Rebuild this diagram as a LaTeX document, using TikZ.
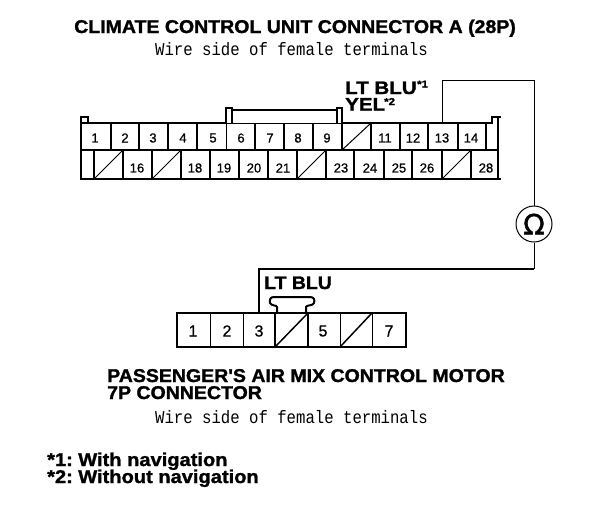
\documentclass[tikz,border=0pt]{standalone}
\usepackage{fontspec}
\setmainfont{Liberation Sans}
\newfontfamily\wirefont[FakeStretch=0.87]{Liberation Mono}
\newfontfamily\symfont[FakeBold=1.5]{DejaVu Sans}
\newfontfamily\headfont[FakeStretch=1.055,FakeBold=1.4]{Liberation Sans Bold}
\newfontfamily\wirelabel[FakeStretch=1.14,FakeBold=1.4]{Liberation Sans Bold}
\newfontfamily\wirelabelb[FakeStretch=1.08,FakeBold=1.4]{Liberation Sans Bold}
\newfontfamily\notefont[FakeStretch=1.085,FakeBold=1.4]{Liberation Sans Bold}
\newfontfamily\pinfont[FakeBold=0.8]{Liberation Sans}
\tikzset{
  x=1pt,y=-1pt,
  head/.style={anchor=base west,inner sep=0pt,font=\fontsize{18.5}{18.5}\selectfont\headfont},
  note/.style={anchor=base west,inner sep=0pt,font=\fontsize{18.5}{18.5}\selectfont\notefont},
  wlabel/.style={anchor=base west,inner sep=0pt,font=\fontsize{18}{18}\selectfont\wirelabel},
  wlabelb/.style={anchor=base west,inner sep=0pt,font=\fontsize{18}{18}\selectfont\wirelabelb},
  wsup/.style={anchor=base west,inner sep=0pt,font=\fontsize{10}{10}\selectfont\wirelabel},
  sub/.style={anchor=base west,inner sep=0pt,font=\fontsize{18}{18}\selectfont\wirefont},
  pin/.style={inner sep=0pt,font=\fontsize{13}{13}\selectfont\pinfont},
  bigpin/.style={inner sep=0pt,font=\fontsize{16}{16}\selectfont\pinfont},
  frame/.style={line width=2pt,line cap=rect},
  grid/.style={line width=1pt},
  wire/.style={line width=1pt},
  thickwire/.style={line width=1.5pt},
}
\begin{document}
\begin{tikzpicture}
\useasboundingbox (0,0) rectangle (608,512);
\node[head] (t1) at (74,33) {CLIMATE CONTROL UNIT CONNECTOR A (28P)};
\node[sub] (s1) at (155,55) {Wire side of female terminals};

% connector A outline
\draw[frame] (88,117) -- (81,117) -- (81,179) -- (500,179);
\draw[frame] (81,123) -- (226,123);
\draw[frame] (88,117) -- (88,123);
\draw[frame] (342,123) -- (492,123) -- (492,117) -- (500,117);
\draw[frame] (498,117) -- (498,179);
\draw[frame] (81,150) -- (498,150);
\draw[thickwire] (226,123) -- (226,108) -- (232,108) -- (232,123);
\draw[thickwire] (232,110) -- (337,110);
\draw[thickwire] (337,123) -- (337,108) -- (342,108) -- (342,123);
\draw[grid] (226,123) -- (342,123);
% top row
\foreach \x in {111,139,168,197,255,284,313,342,371,400,428,458,486}
  \draw[thickwire] (\x,123) -- (\x,150);
\draw[grid] (226,123) -- (226,150);
\draw[grid] (342,150) -- (371,123);
% bottom row
\foreach \x in {94,123,152,181,210,239,268,297,326,354,384,412,442,471}
  \draw[thickwire] (\x,150) -- (\x,179);
\draw[grid] (94,179) -- (123,150);
\draw[grid] (152,179) -- (181,150);
\draw[grid] (297,179) -- (326,150);
\draw[grid] (442,179) -- (471,150);
% labels
\foreach \t/\x in {1/95,2/125,3/153,4/183,5/213,6/241,7/270,8/298,9/327,11/385,12/413,13/442,14/471}
  \node[pin] (a\t) at (\x,138) {\t};
\foreach \t/\x in {16/137,18/195,19/224,20/254,21/283,23/341,24/370,25/399,26/427,28/486}
  \node[pin] (b\t) at (\x,168) {\t};

\node[wlabel] (l1) at (345,94) {LT BLU};
\node[wsup] (l1s) at (417,87.5) {*1};
\node[wlabel] (l2) at (345,110.5) {YEL};
\node[wsup] (l2s) at (384,105) {*2};

% meter
\node[draw,circle,line width=1pt,minimum size=36pt,inner sep=0pt,font=\fontsize{28}{28}\selectfont\symfont] (ohm) at (534,224) {Ω};
\coordinate (a13top) at (442,123);
\coordinate (p3top) at (259,313);
\draw[wire] (a13top) -- (442,80) -- (534,80) -- (ohm.north);
\draw[wire] (ohm.south) -- (534,269);
\draw[thickwire] (534,269) -- (259,269) -- (p3top);

% 7P
\node[wlabelb] (l3) at (264,289) {LT BLU};
\draw[frame] (177,313) rectangle (406,347);
\foreach \x in {210,243,340,372}
  \draw[grid] (\x,313) -- (\x,347);
\foreach \x in {275,308}
  \draw[thickwire] (\x,313) -- (\x,347);
\draw[thickwire] (275,347) -- (308,313);
\draw[thickwire] (340,347) -- (372,313);
\draw[frame,line cap=butt] (277,313) -- (277,307) .. controls (277,305) and (271,306) .. (270,303) .. controls (269,299) and (271,297) .. (274,297) -- (310,297) .. controls (314,297) and (315,300) .. (314,303) .. controls (313,306) and (306,305) .. (306,307) -- (306,313);
\foreach \t/\x in {1/193,2/227,3/259,5/323,7/389}
  \node[bigpin] (c\t) at (\x,331) {\t};

\node[head] (t2) at (107,382) {PASSENGER'S AIR MIX CONTROL MOTOR};
\node[head] (t3) at (107,399) {7P CONNECTOR};
\node[sub] (s2) at (155,423) {Wire side of female terminals};
\node[note] (f1) at (47,466) {*1:\hspace{-2pt} With navigation};
\node[note] (f2) at (47,483) {*2:\hspace{-2pt} Without navigation};
\end{tikzpicture}
\end{document}
